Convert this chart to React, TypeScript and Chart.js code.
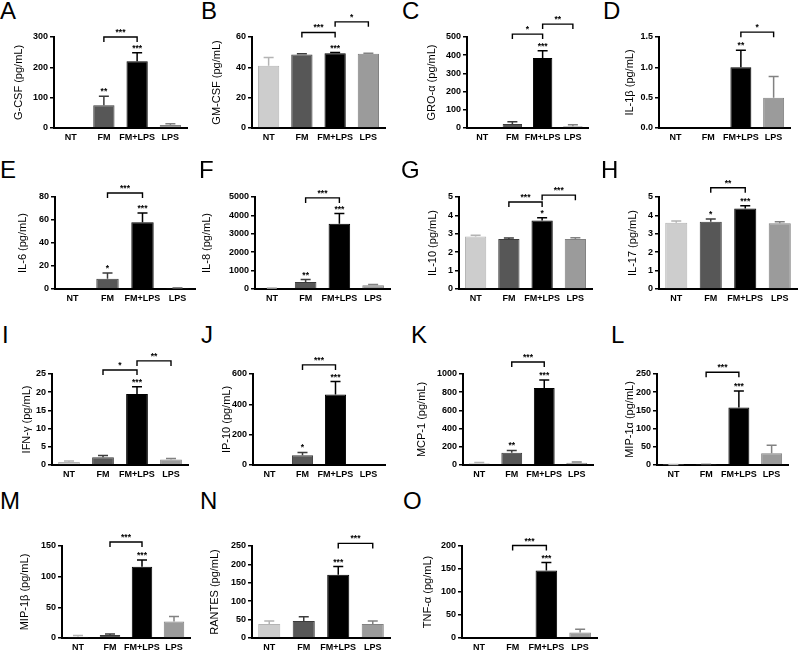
import React, { useEffect, useRef } from "react";
import { Chart, registerables } from "chart.js";
Chart.register(...registerables);

const FONT = '"Liberation Sans", Arial, Helvetica, sans-serif';
Chart.defaults.font.family = FONT;

const categories = ["NT", "FM", "FM+LPS", "LPS"];
const barColors = ["#cdcdcd", "#575757", "#000000", "#9b9b9b"];
const edgeColors = ["#b4b4b4", "#3c3c3c", "#000000", "#828282"];

// ---- data (mean, SEM, significance over bar, brackets [from, to, yValue, label]) ----
const gcsfMeans = [0, 75, 220, 10];
const gcsfErrors = [0, 30, 28, 4];
const gcsfStars = ["", "**", "***", ""];
const gcsfBrackets: [number, number, number, string][] = [[1, 2, 300, "***"]];

const gmcsfMeans = [41, 48.5, 49.3, 49];
const gmcsfErrors = [5.5, 0.5, 0.4, 0.3];
const gmcsfStars = ["", "", "***", ""];
const gmcsfBrackets: [number, number, number, string][] = [[1, 2, 63, "***"], [2, 3, 70, "*"]];

const groMeans = [0, 22, 385, 10];
const groErrors = [0, 13, 40, 8];
const groStars = ["", "", "***", ""];
const groBrackets: [number, number, number, string][] = [[1, 2, 516, "*"], [2, 3, 571, "**"]];

const il1bMeans = [0, 0, 1.0, 0.5];
const il1bErrors = [0, 0, 0.28, 0.35];
const il1bStars = ["", "", "**", ""];
const il1bBrackets: [number, number, number, string][] = [[2, 3, 1.58, "*"]];

const il6Means = [0, 9, 58, 0.8];
const il6Errors = [0, 5, 8, 0.3];
const il6Stars = ["", "*", "***", ""];
const il6Brackets: [number, number, number, string][] = [[1, 2, 83.5, "***"]];

const il8Means = [40, 380, 3550, 200];
const il8Errors = [20, 130, 550, 50];
const il8Stars = ["", "**", "***", ""];
const il8Brackets: [number, number, number, string][] = [[1, 2, 4950, "***"]];

const il10Means = [2.85, 2.72, 3.72, 2.72];
const il10Errors = [0.07, 0.05, 0.15, 0.07];
const il10Stars = ["", "", "*", ""];
const il10Brackets: [number, number, number, string][] = [[1, 2, 4.73, "***"], [2, 3, 5.1, "***"]];

const il17Means = [3.6, 3.65, 4.38, 3.58];
const il17Errors = [0.1, 0.15, 0.15, 0.08];
const il17Stars = ["", "*", "***", ""];
const il17Brackets: [number, number, number, string][] = [[1, 2, 5.5, "**"]];

const ifngMeans = [0.8, 2.1, 19.5, 1.5];
const ifngErrors = [0.3, 0.5, 2, 0.3];
const ifngStars = ["", "", "***", ""];
const ifngBrackets: [number, number, number, string][] = [[1, 2, 26.1, "*"], [2, 3, 28.6, "**"]];

const ip10Means = [0, 65, 465, 0];
const ip10Errors = [0, 18, 85, 0];
const ip10Stars = ["", "*", "***", ""];
const ip10Brackets: [number, number, number, string][] = [[1, 2, 660, "***"]];

const mcp1Means = [20, 135, 845, 25];
const mcp1Errors = [8, 25, 90, 8];
const mcp1Stars = ["", "**", "***", ""];
const mcp1Brackets: [number, number, number, string][] = [[1, 2, 1132, "***"]];

const mip1aMeans = [1, 1, 158, 32];
const mip1aErrors = [0.5, 0.5, 45, 22];
const mip1aStars = ["", "", "***", ""];
const mip1aBrackets: [number, number, number, string][] = [[1, 2, 255, "***"]];

const mip1bMeans = [2, 5, 116, 27];
const mip1bErrors = [2, 1.5, 11, 8];
const mip1bStars = ["", "", "***", ""];
const mip1bBrackets: [number, number, number, string][] = [[1, 2, 156.5, "***"]];

const rantesMeans = [38, 46, 172, 38];
const rantesErrors = [8, 12, 22, 8];
const rantesStars = ["", "", "***", ""];
const rantesBrackets: [number, number, number, string][] = [[2, 3, 257, "***"]];

const tnfaMeans = [0, 0, 147, 12];
const tnfaErrors = [0, 0, 17, 7];
const tnfaStars = ["", "", "***", ""];
const tnfaBrackets: [number, number, number, string][] = [[1, 2, 201, "***"]];

// ---- layout: plot [left, top, right, bottom], y-title centre x, letter [x, capTop] ----
type PanelSpec = {
  letter: string;
  title: string;
  means: number[];
  errors: number[];
  stars: string[];
  brackets: [number, number, number, string][];
  max: number;
  step: number;
  decimals: number;
  plot: [number, number, number, number];
  titleX: number;
  letterPos: [number, number];
};

const panels: PanelSpec[] = [
  { letter: "A", title: "G-CSF (pg/mL)", means: gcsfMeans, errors: gcsfErrors, stars: gcsfStars, brackets: gcsfBrackets, max: 300, step: 100, decimals: 0, plot: [54, 37, 187, 128], titleX: 19, letterPos: [0, 2] },
  { letter: "B", title: "GM-CSF (pg/mL)", means: gmcsfMeans, errors: gmcsfErrors, stars: gmcsfStars, brackets: gmcsfBrackets, max: 60, step: 20, decimals: 0, plot: [252, 37, 385, 128], titleX: 217, letterPos: [201, 2] },
  { letter: "C", title: "GRO-α (pg/mL)", means: groMeans, errors: groErrors, stars: groStars, brackets: groBrackets, max: 500, step: 100, decimals: 0, plot: [467, 37, 588, 128], titleX: 432, letterPos: [402, 2] },
  { letter: "D", title: "IL-1β (pg/mL)", means: il1bMeans, errors: il1bErrors, stars: il1bStars, brackets: il1bBrackets, max: 1.5, step: 0.5, decimals: 1, plot: [659, 37, 790, 128], titleX: 630, letterPos: [603, 2] },
  { letter: "E", title: "IL-6 (pg/mL)", means: il6Means, errors: il6Errors, stars: il6Stars, brackets: il6Brackets, max: 80, step: 20, decimals: 0, plot: [55, 197, 195, 289], titleX: 23, letterPos: [0, 161] },
  { letter: "F", title: "IL-8 (pg/mL)", means: il8Means, errors: il8Errors, stars: il8Stars, brackets: il8Brackets, max: 5000, step: 1000, decimals: 0, plot: [255, 197, 390, 289], titleX: 207, letterPos: [199, 161] },
  { letter: "G", title: "IL-10 (pg/mL)", means: il10Means, errors: il10Errors, stars: il10Stars, brackets: il10Brackets, max: 5, step: 1, decimals: 0, plot: [459, 197, 592, 289], titleX: 433, letterPos: [401, 161] },
  { letter: "H", title: "IL-17 (pg/mL)", means: il17Means, errors: il17Errors, stars: il17Stars, brackets: il17Brackets, max: 5, step: 1, decimals: 0, plot: [659, 197, 797, 289], titleX: 633, letterPos: [601, 161] },
  { letter: "I", title: "IFN-γ (pg/mL)", means: ifngMeans, errors: ifngErrors, stars: ifngStars, brackets: ifngBrackets, max: 25, step: 5, decimals: 0, plot: [52, 374, 188, 465], titleX: 27, letterPos: [2, 326] },
  { letter: "J", title: "IP-10 (pg/mL)", means: ip10Means, errors: ip10Errors, stars: ip10Stars, brackets: ip10Brackets, max: 600, step: 200, decimals: 0, plot: [253, 374, 385, 465], titleX: 227, letterPos: [201, 326] },
  { letter: "K", title: "MCP-1 (pg/mL)", means: mcp1Means, errors: mcp1Errors, stars: mcp1Stars, brackets: mcp1Brackets, max: 1000, step: 200, decimals: 0, plot: [463, 374, 593, 465], titleX: 422, letterPos: [411, 326] },
  { letter: "L", title: "MIP-1α (pg/mL)", means: mip1aMeans, errors: mip1aErrors, stars: mip1aStars, brackets: mip1aBrackets, max: 250, step: 50, decimals: 0, plot: [657, 374, 788, 465], titleX: 630, letterPos: [611, 326] },
  { letter: "M", title: "MIP-1β (pg/mL)", means: mip1bMeans, errors: mip1bErrors, stars: mip1bStars, brackets: mip1bBrackets, max: 150, step: 50, decimals: 0, plot: [62, 546, 190, 638], titleX: 25, letterPos: [0, 492] },
  { letter: "N", title: "RANTES (pg/mL)", means: rantesMeans, errors: rantesErrors, stars: rantesStars, brackets: rantesBrackets, max: 250, step: 50, decimals: 0, plot: [252, 546, 390, 638], titleX: 215, letterPos: [200, 492] },
  { letter: "O", title: "TNF-α (pg/mL)", means: tnfaMeans, errors: tnfaErrors, stars: tnfaStars, brackets: tnfaBrackets, max: 200, step: 50, decimals: 0, plot: [462, 546, 597, 638], titleX: 428, letterPos: [403, 492] },
];

const PAD_TOP = 42;
const PAD_RIGHT = 6;
const X_AXIS_H = 20;

const annotationPlugin = {
  id: "sigAnnotations",
  afterDatasetsDraw(chart: any, _args: any, opts: any) {
    const spec: PanelSpec = opts.spec;
    if (!spec) return;
    const ctx = chart.ctx;
    const ys = chart.scales.y;
    const meta = chart.getDatasetMeta(0);
    ctx.save();
    spec.means.forEach((m, i) => {
      const bar = meta.data[i];
      const e = spec.errors[i];
      const x = bar.x;
      const yTop = ys.getPixelForValue(m + e);
      if (e > 0) {
        const yM = ys.getPixelForValue(m);
        ctx.strokeStyle = edgeColors[i];
        ctx.lineWidth = 1.5;
        ctx.beginPath();
        ctx.moveTo(x, yM);
        ctx.lineTo(x, yTop);
        ctx.moveTo(x - 5, yTop);
        ctx.lineTo(x + 5, yTop);
        ctx.stroke();
      }
      const s = spec.stars[i];
      if (s) {
        ctx.fillStyle = "#000";
        ctx.font = `bold 8.5px ${FONT}`;
        ctx.textAlign = "center";
        ctx.textBaseline = "alphabetic";
        ctx.fillText(s, x, yTop - 2);
      }
    });
    spec.brackets.forEach(([a, b, v, label]) => {
      const x1 = meta.data[a].x;
      const x2 = meta.data[b].x;
      const y = ys.getPixelForValue(v);
      ctx.strokeStyle = "#000";
      ctx.lineWidth = 1.4;
      ctx.beginPath();
      ctx.moveTo(x1, y + 5);
      ctx.lineTo(x1, y);
      ctx.lineTo(x2, y);
      ctx.lineTo(x2, y + 5);
      ctx.stroke();
      ctx.fillStyle = "#000";
      ctx.font = `bold 8.5px ${FONT}`;
      ctx.textAlign = "center";
      ctx.textBaseline = "alphabetic";
      ctx.fillText(label, (x1 + x2) / 2, y - 2);
    });
    ctx.restore();
  },
};

function Panel({ spec }: { spec: PanelSpec }) {
  const ref = useRef<HTMLCanvasElement>(null);
  const [pl, pt, pr, pb] = spec.plot;
  const left = Math.round(spec.titleX - 6.6);
  const yAxisW = pl - left;
  const top = pt - PAD_TOP;
  const width = pr - left + PAD_RIGHT;
  const height = pb - pt + PAD_TOP + X_AXIS_H;

  useEffect(() => {
    if (!ref.current) return;
    const chart = new Chart(ref.current, {
      type: "bar",
      data: {
        labels: categories,
        datasets: [
          {
            data: spec.means,
            backgroundColor: barColors,
            borderColor: edgeColors,
            borderWidth: 1,
            barPercentage: 0.64,
            categoryPercentage: 1,
          },
        ],
      },
      options: {
        animation: false,
        responsive: false,
        devicePixelRatio: 1,
        layout: { padding: { top: PAD_TOP, right: PAD_RIGHT, left: 0, bottom: 0 } },
        plugins: {
          legend: { display: false },
          tooltip: { enabled: false },
          sigAnnotations: { spec },
        } as any,
        scales: {
          x: {
            grid: { display: false, drawTicks: false },
            border: { display: true, color: "#000", width: 2 },
            ticks: { color: "#000", font: { size: 9, weight: "bold", family: FONT }, padding: 4, maxRotation: 0, autoSkip: false },
            afterFit: (s: any) => { s.height = X_AXIS_H; },
          },
          y: {
            min: 0,
            max: spec.max,
            grid: { drawOnChartArea: false, drawTicks: true, tickLength: 4, color: "#000", lineWidth: 1.5 },
            border: { display: true, color: "#000", width: 2 },
            ticks: {
              stepSize: spec.step,
              color: "#000",
              padding: 2,
              font: { size: 9, weight: "bold", family: FONT },
              callback: (v: any) => Number(v).toFixed(spec.decimals),
            },
            title: { display: true, text: spec.title, color: "#000", font: { size: 11, family: FONT }, padding: 0 },
            afterFit: (s: any) => { s.width = yAxisW; },
          },
        },
      },
      plugins: [annotationPlugin],
    } as any);
    return () => chart.destroy();
  }, []);

  return (
    <>
      <div
        style={{
          position: "absolute",
          left: spec.letterPos[0],
          top: spec.letterPos[1] - 3,
          font: `24px/24px ${FONT}`,
          color: "#000",
        }}
      >
        {spec.letter}
      </div>
      <canvas
        ref={ref}
        width={width}
        height={height}
        style={{ position: "absolute", left, top, width, height }}
      />
    </>
  );
}

export default function App() {
  return (
    <div style={{ position: "fixed", left: 0, top: 0, width: 800, height: 651, background: "#fff", overflow: "hidden" }}>
      {panels.map((p) => (
        <Panel key={p.letter} spec={p} />
      ))}
    </div>
  );
}
